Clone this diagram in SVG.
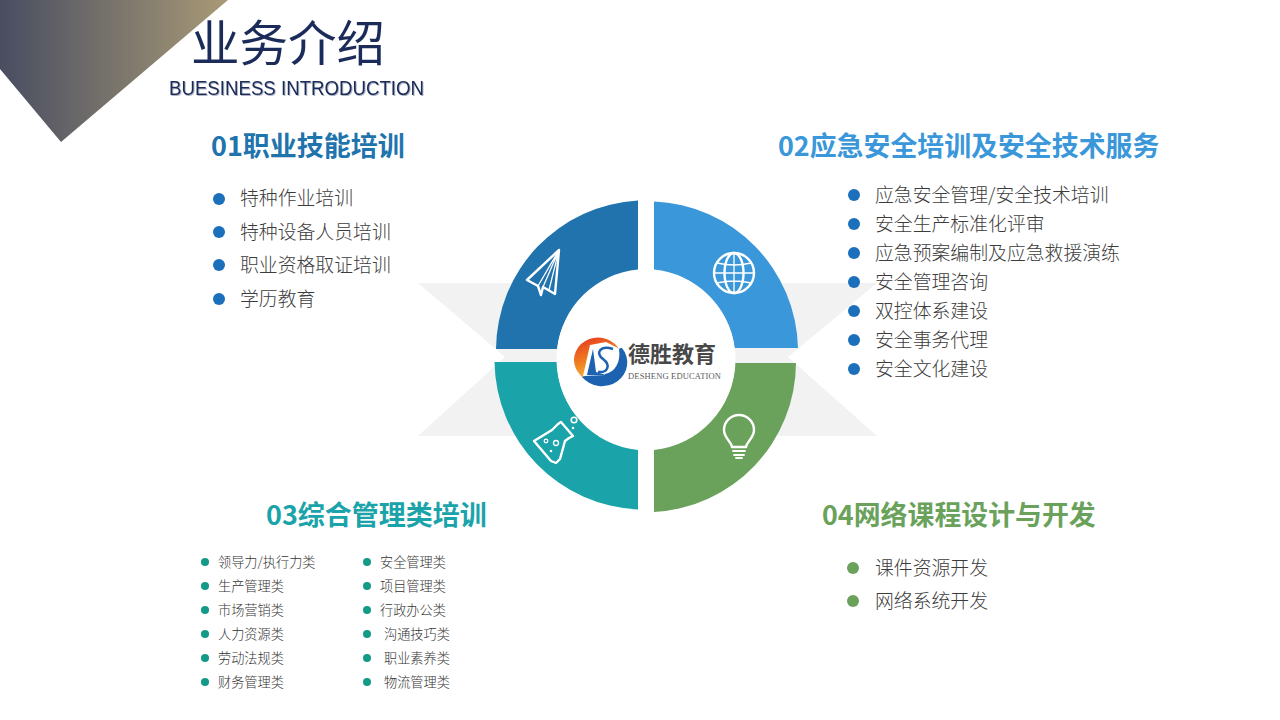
<svg xmlns="http://www.w3.org/2000/svg" width="1280" height="720" viewBox="0 0 1280 720">
<style>
text{font-family:"Noto Sans CJK SC","Liberation Sans",sans-serif}
.b{font-size:18.850px;fill:#3c3c3c;font-weight:300}
.s{font-size:13.200px;fill:#333;font-weight:300}
.h{font-size:27px;font-weight:700}
.bu{fill:#1c6fba}.gr{fill:#6aa25c}.te{fill:#149a86}
.ic{fill:none;stroke:#fff;stroke-width:2.400;stroke-linejoin:round;stroke-linecap:round}
.th{stroke-width:1.300}
</style>
<defs>
<linearGradient id="g1" x1="0" y1="0" x2="228" y2="0" gradientUnits="userSpaceOnUse"><stop offset="0" stop-color="#484d61"/><stop offset="1" stop-color="#a99a76"/></linearGradient>
<linearGradient id="g2" x1="0" y1="0" x2="0.4" y2="1"><stop offset="0" stop-color="#e5301f"/><stop offset="0.6" stop-color="#f08a22"/><stop offset="1" stop-color="#f6c65a"/></linearGradient>
<filter id="sh" x="-5%" y="-20%" width="110%" height="140%"><feDropShadow dx="1" dy="1" stdDeviation="0.4" flood-color="#1c2b55" flood-opacity="0.35"/></filter>
</defs>
<rect width="1280" height="720" fill="#fff"/>
<polygon points="0,0 228,0 61,142 0,69" fill="url(#g1)"/>
<text x="191" y="61" font-size="48.500" fill="#1b2c5a">业务介绍</text>
<text x="169" y="95" font-size="20" fill="#1b2c5a" filter="url(#sh)" style="font-family:'Liberation Sans',sans-serif" textLength="255" lengthAdjust="spacingAndGlyphs">BUESINESS INTRODUCTION</text>
<polygon id="backdrop" points="418,283 877,283 788,357 877,436 418,436 505,357" fill="#f2f2f2"/>
<g id="q1"><path d="M638,200.500A150 150 0 0 0 496,349L557,349A90 90 0 0 1 638,269.500Z" fill="#2173ad"/>
<g class="ic"><path d="M559,250L527,280L538,286L541,295L543,287L555,294Z"/><path class="th" d="M559,250L538,286M559,250L543,287M559,250L549,290"/></g></g>
<g id="q2"><path d="M654,201.500A150 150 0 0 1 798,348L734.500,348A90 90 0 0 0 654,269.500Z" fill="#3a97da"/>
<g class="ic" transform="translate(734 273)"><circle r="20"/><ellipse rx="9.500" ry="20"/><path class="th" d="M0,-20V20M-20,0H20M-17,-10Q0,-6 17,-10M-17,10Q0,6 17,10"/></g></g>
<g id="q3"><path d="M638,509.500A150 150 0 0 1 494.500,362L557,362A90 90 0 0 0 638,450Z" fill="#1ba3aa"/>
<g class="ic"><path d="M534,441L552,430L558,424L561,422L573,436L569,438L565,441L560,459L556,463L551,461Z"/><circle class="th" cx="546" cy="441" r="1.800"/><circle class="th" cx="556" cy="443" r="2.500"/><circle class="th" cx="551" cy="451" r="0.600"/><circle cx="574" cy="420" r="2.800" stroke-width="1.600"/><circle class="th" cx="573" cy="428" r="0.600"/></g></g>
<g id="q4"><path d="M654,512A150 150 0 0 0 796,363L735,363A90 90 0 0 1 654,450Z" fill="#6aa25c"/>
<g class="ic"><path d="M732,447C731,441 724,438 724,430A15 15 0 0 1 754,430C754,438 747,441 746,447Z"/><path d="M733,451H745M734,455H744M736,458H742" stroke-width="1.800"/></g></g>
<g id="hub"><circle cx="646" cy="359.500" r="89.500" fill="#fff"/>
<g id="logo"><ellipse cx="598" cy="360" rx="24" ry="22.500" fill="url(#g2)"/>
<path d="M622,348A24 22.500 0 0 1 582,377L588,375L616,349Z" fill="#1c62b0"/>
<path d="M590,345L606,342L620,349C622,362 616,373 605,375L583,376Z" fill="#fff"/>
<path d="M593,349L587,375L606,375L596,372Z" fill="#1c62b0"/>
<path d="M613,349C600,345 595,353 603,359C611,365 608,373 598,372" fill="none" stroke="#1c62b0" stroke-width="2.500"/>
<path d="M620,349C622,362 616,373 605,375" fill="none" stroke="#1c62b0" stroke-width="2"/></g>
<text x="628" y="362" font-size="22" fill="#484848" font-weight="700">德胜教育</text>
<text x="628" y="378.500" font-size="8.500" fill="#5a5a5a" style="font-family:'Liberation Serif',serif" textLength="93">DESHENG EDUCATION</text></g>
<g id="s1"><text class="h" x="211" y="156" fill="#1f74ad">01职业技能培训</text>
<g class="bu"><circle cx="219" cy="199" r="6"/><circle cx="219" cy="232" r="6"/><circle cx="219" cy="265" r="6"/><circle cx="219" cy="299" r="6"/></g>
<text class="b" x="240" y="205">特种作业培训</text><text class="b" x="240" y="239">特种设备人员培训</text><text class="b" x="240" y="272">职业资格取证培训</text><text class="b" x="240" y="306">学历教育</text></g>
<g id="s2"><text class="h" x="778" y="156" fill="#3a97da" style="font-size:26.900px">02应急安全培训及安全技术服务</text>
<g class="bu"><circle cx="854" cy="195" r="6"/><circle cx="854" cy="224" r="6"/><circle cx="854" cy="253" r="6"/><circle cx="854" cy="282" r="6"/><circle cx="854" cy="311" r="6"/><circle cx="854" cy="340" r="6"/><circle cx="854" cy="369" r="6"/></g>
<text class="b" x="875" y="202">应急安全管理/安全技术培训</text><text class="b" x="875" y="231">安全生产标准化评审</text><text class="b" x="875" y="260">应急预案编制及应急救援演练</text><text class="b" x="875" y="289">安全管理咨询</text><text class="b" x="875" y="318">双控体系建设</text><text class="b" x="875" y="347">安全事务代理</text><text class="b" x="875" y="376">安全文化建设</text></g>
<g id="s3"><text class="h" x="266" y="525" fill="#1ba3aa">03综合管理类培训</text>
<g class="te"><circle cx="205" cy="562" r="4"/><circle cx="205" cy="586" r="4"/><circle cx="205" cy="610" r="4"/><circle cx="205" cy="634" r="4"/><circle cx="205" cy="658" r="4"/><circle cx="205" cy="682" r="4"/><circle cx="367" cy="562" r="4"/><circle cx="367" cy="586" r="4"/><circle cx="367" cy="610" r="4"/><circle cx="367" cy="634" r="4"/><circle cx="367" cy="658" r="4"/><circle cx="367" cy="682" r="4"/></g>
<text class="s" x="218" y="566.500">领导力/执行力类</text><text class="s" x="218" y="590.500">生产管理类</text><text class="s" x="218" y="614.500">市场营销类</text><text class="s" x="218" y="638.500">人力资源类</text><text class="s" x="218" y="662.500">劳动法规类</text><text class="s" x="218" y="686.500">财务管理类</text>
<text class="s" x="380" y="566.500">安全管理类</text><text class="s" x="380" y="590.500">项目管理类</text><text class="s" x="380" y="614.500">行政办公类</text><text class="s" x="384" y="638.500">沟通技巧类</text><text class="s" x="384" y="662.500">职业素养类</text><text class="s" x="384" y="686.500">物流管理类</text></g>
<g id="s4"><text class="h" x="822" y="525" fill="#6aa25c" style="font-size:26.900px">04网络课程设计与开发</text>
<g class="gr"><circle cx="853" cy="568" r="6"/><circle cx="853" cy="601" r="6"/></g>
<text class="b" x="875" y="575">课件资源开发</text><text class="b" x="875" y="608">网络系统开发</text></g>
</svg>
